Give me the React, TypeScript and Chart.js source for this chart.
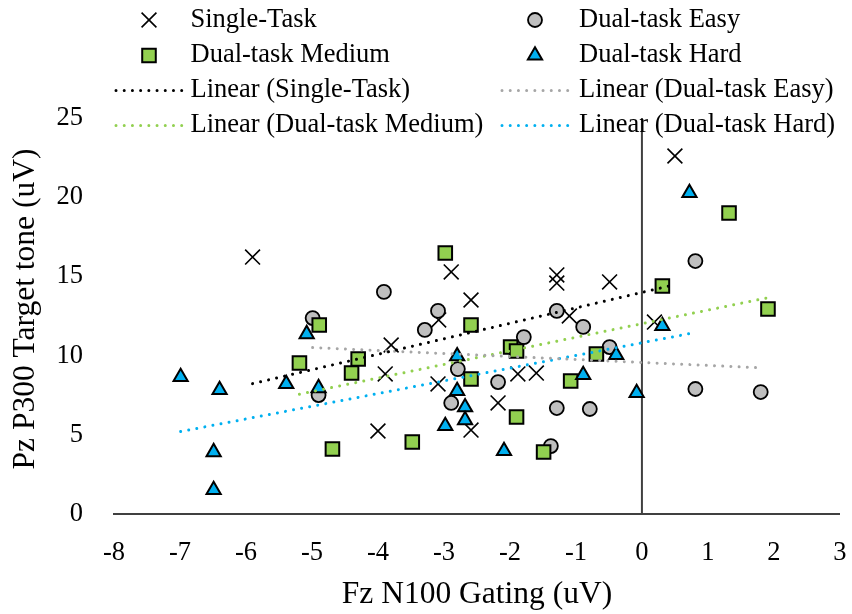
import React, { useEffect, useRef } from "react";
import { Chart, registerables } from "chart.js";

Chart.register(...registerables);

// ---- data -------------------------------------------------------------
const seriesNames = ["Single-Task", "Dual-task Easy", "Dual-task Medium", "Dual-task Hard"];

const singleX = [-5.9, -2.89, -2.59, -1.29, -1.29, -0.49, 0.5, -3.08, -3.8, -3.89, -4.0, -3.09, -2.59, -2.18, -1.88, -1.6, -1.1, 0.19];
const singleY = [16.22, 15.28, 13.51, 15.09, 14.58, 14.65, 22.6, 12.25, 10.67, 8.84, 5.24, 8.21, 5.3, 7.01, 8.84, 8.9, 12.5, 12.12];

const easyX = [-3.91, -4.99, -3.09, -3.29, -1.79, -1.29, -0.89, 0.81, -4.9, -2.79, -2.89, -2.18, -1.38, -1.29, -0.79, -0.49, 0.81, 1.8];
const easyY = [14.02, 12.37, 12.82, 11.62, 11.17, 12.82, 11.81, 15.97, 7.51, 9.15, 7.01, 8.33, 4.29, 6.69, 6.63, 10.54, 7.89, 7.7];

const mediumX = [-4.89, -2.98, -2.59, 1.32, 0.31, 1.91, -5.19, -4.3, -4.4, -4.69, -3.48, -1.99, -1.9, -2.59, -1.9, -1.49, -1.08, -0.69];
const mediumY = [11.93, 16.48, 11.93, 19.0, 14.39, 12.94, 9.53, 9.79, 8.9, 4.1, 4.55, 10.54, 10.29, 8.52, 6.12, 3.91, 8.4, 10.1];

const hardX = [-5.08, 0.72, 0.31, -6.99, -6.4, -6.49, -6.49, -5.39, -4.9, -2.8, -2.8, -2.68, -2.68, -2.98, -2.09, -0.89, -0.39, -0.08];
const hardY = [11.36, 20.27, 11.87, 8.65, 7.83, 3.91, 1.52, 8.21, 7.95, 9.97, 7.77, 6.75, 5.93, 5.56, 3.98, 8.78, 10.04, 7.64];

const xTicks = [-8, -7, -6, -5, -4, -3, -2, -1, 0, 1, 2, 3];
const yTicks = [0, 5, 10, 15, 20, 25];

const xTitle = "Fz N100 Gating (uV)";
const yTitle = "Pz P300 Target tone (uV)";

// ---- styles -----------------------------------------------------------
const FONT = "'Liberation Serif', 'Times New Roman', serif";
const axisColor = "#404040";
const tickFontSize = 26.5;
const titleFontSize = 31.5;

type MarkerStyle = {
  shape: "crossRot" | "circle" | "rect" | "triangle";
  radius: number;
  fill: string;
  stroke: string;
  width: number;
};

const markerStyles: MarkerStyle[] = [
  { shape: "crossRot", radius: 10.5, fill: "#000000", stroke: "#000000", width: 1.6 },
  { shape: "circle", radius: 7, fill: "#BFBFBF", stroke: "#000000", width: 1.8 },
  { shape: "rect", radius: 9.6, fill: "#92D050", stroke: "#000000", width: 2 },
  { shape: "triangle", radius: 8.2, fill: "#00B0F0", stroke: "#000000", width: 2 },
];

const trendColors = ["#000000", "#A6A6A6", "#92D050", "#00B0F0"];
const trendDash = [0.01, 8.2];
const trendWidth = 3;

// ---- helpers ----------------------------------------------------------
const toPoints = (xs: number[], ys: number[]) => xs.map((x, i) => ({ x, y: ys[i] }));

// least-squares line over the x-range of the series
function trendLine(xs: number[], ys: number[]) {
  const n = xs.length;
  const mx = xs.reduce((a, b) => a + b, 0) / n;
  const my = ys.reduce((a, b) => a + b, 0) / n;
  let sxy = 0;
  let sxx = 0;
  for (let i = 0; i < n; i++) {
    sxy += (xs[i] - mx) * (ys[i] - my);
    sxx += (xs[i] - mx) * (xs[i] - mx);
  }
  const m = sxy / sxx;
  const b = my - m * mx;
  const lo = Math.min(...xs);
  const hi = Math.max(...xs);
  return [
    { x: lo, y: m * lo + b },
    { x: hi, y: m * hi + b },
  ];
}

function drawMarker(ctx: CanvasRenderingContext2D, s: MarkerStyle, x: number, y: number) {
  ctx.save();
  ctx.lineWidth = s.width;
  ctx.strokeStyle = s.stroke;
  ctx.fillStyle = s.fill;
  ctx.beginPath();
  const r = s.radius;
  if (s.shape === "crossRot") {
    const d = r * Math.SQRT1_2;
    ctx.moveTo(x - d, y - d);
    ctx.lineTo(x + d, y + d);
    ctx.moveTo(x - d, y + d);
    ctx.lineTo(x + d, y - d);
    ctx.stroke();
  } else {
    if (s.shape === "circle") {
      ctx.arc(x, y, r, 0, Math.PI * 2);
    } else if (s.shape === "rect") {
      const h = r * Math.SQRT1_2;
      ctx.rect(x - h, y - h, 2 * h, 2 * h);
    } else {
      const w = r * Math.sin((2 * Math.PI) / 3);
      ctx.moveTo(x, y - r);
      ctx.lineTo(x + w, y + r / 2);
      ctx.lineTo(x - w, y + r / 2);
      ctx.closePath();
    }
    ctx.fill();
    ctx.stroke();
  }
  ctx.restore();
}

// vertical axis line through x = 0
const zeroLinePlugin = {
  id: "zeroLine",
  beforeDatasetsDraw(chart: any) {
    const { ctx, scales } = chart;
    const px = scales.x.getPixelForValue(0);
    ctx.save();
    ctx.strokeStyle = axisColor;
    ctx.lineWidth = 2;
    ctx.beginPath();
    ctx.moveTo(px, scales.y.getPixelForValue(yTicks[yTicks.length - 1]));
    ctx.lineTo(px, scales.y.getPixelForValue(0));
    ctx.stroke();
    ctx.restore();
  },
};

// rotated y-axis title, centred a little above the plot's middle
const yTitlePlugin = {
  id: "yTitle",
  afterDraw(chart: any) {
    const ctx: CanvasRenderingContext2D = chart.ctx;
    const area = chart.chartArea;
    ctx.save();
    ctx.translate(26, (area.top + area.bottom) / 2 - 7);
    ctx.rotate(-Math.PI / 2);
    ctx.font = `${titleFontSize}px ${FONT}`;
    ctx.fillStyle = "#000000";
    ctx.textAlign = "center";
    ctx.textBaseline = "middle";
    ctx.fillText(yTitle, 0, 0);
    ctx.restore();
  },
};

// two-column legend sitting over the top of the plot
const legendPlugin = {
  id: "overlayLegend",
  afterDraw(chart: any) {
    const ctx: CanvasRenderingContext2D = chart.ctx;
    const sampleX = [
      [116, 182],
      [502, 568],
    ];
    const textX = [190.5, 579];
    const rowY = [20, 55.5, 90.5, 125.5];
    ctx.save();
    ctx.font = `${tickFontSize}px ${FONT}`;
    ctx.textBaseline = "middle";
    ctx.textAlign = "left";
    ctx.fillStyle = "#000000";
    for (let i = 0; i < 4; i++) {
      const col = i % 2;
      const row = Math.floor(i / 2);
      const cx = (sampleX[col][0] + sampleX[col][1]) / 2;
      drawMarker(ctx, markerStyles[i], cx, rowY[row]);
      ctx.fillText(seriesNames[i], textX[col], rowY[row]);
    }
    for (let i = 0; i < 4; i++) {
      const col = i % 2;
      const row = 2 + Math.floor(i / 2);
      ctx.save();
      ctx.strokeStyle = trendColors[i];
      ctx.lineWidth = trendWidth;
      ctx.lineCap = "round";
      ctx.setLineDash(trendDash);
      ctx.beginPath();
      ctx.moveTo(sampleX[col][0], rowY[row]);
      ctx.lineTo(sampleX[col][1], rowY[row]);
      ctx.stroke();
      ctx.restore();
      ctx.fillText(`Linear (${seriesNames[i]})`, textX[col], rowY[row]);
    }
    ctx.restore();
  },
};

export default function App() {
  const canvasRef = useRef<HTMLCanvasElement | null>(null);

  useEffect(() => {
    if (!canvasRef.current) return;
    const xs = [singleX, easyX, mediumX, hardX];
    const ys = [singleY, easyY, mediumY, hardY];

    const scatterSets = seriesNames.map((name, i) => ({
      type: "scatter" as const,
      label: name,
      data: toPoints(xs[i], ys[i]),
      pointStyle: markerStyles[i].shape,
      pointRadius: markerStyles[i].radius,
      pointBackgroundColor: markerStyles[i].fill,
      pointBorderColor: markerStyles[i].stroke,
      pointBorderWidth: markerStyles[i].width,
      showLine: false,
      order: 4 - i,
    }));

    const trendSets = seriesNames.map((name, i) => ({
      type: "line" as const,
      label: `Linear (${name})`,
      data: trendLine(xs[i], ys[i]),
      borderColor: trendColors[i],
      borderWidth: trendWidth,
      borderDash: trendDash,
      borderCapStyle: "round" as const,
      pointRadius: 0,
      fill: false,
      tension: 0,
      order: 0,
    }));

    const chart = new Chart(canvasRef.current, {
      type: "scatter",
      data: { datasets: [...scatterSets, ...trendSets] as any },
      plugins: [zeroLinePlugin, yTitlePlugin, legendPlugin],
      options: {
        animation: false,
        responsive: true,
        maintainAspectRatio: false,
        events: [],
        layout: { padding: { top: 118, right: 10, left: 0, bottom: 0 } },
        plugins: {
          legend: { display: false },
          tooltip: { enabled: false },
        },
        scales: {
          x: {
            type: "linear",
            min: xTicks[0],
            max: xTicks[xTicks.length - 1],
            afterBuildTicks: (scale: any) => {
              scale.ticks = xTicks.map((v) => ({ value: v }));
            },
            afterFit: (scale: any) => {
              scale.height = 100;
              scale.paddingLeft = 0;
              scale.paddingRight = 0;
            },
            grid: { display: false, drawTicks: false },
            border: { display: true, color: axisColor, width: 2 },
            ticks: {
              color: "#000000",
              padding: 23,
              font: { family: FONT, size: tickFontSize },
              maxRotation: 0,
              autoSkip: false,
            },
            title: {
              display: true,
              text: xTitle,
              color: "#000000",
              font: { family: FONT, size: titleFontSize },
              padding: { top: 0, bottom: 0 },
            },
          },
          y: {
            type: "linear",
            min: yTicks[0],
            max: yTicks[yTicks.length - 1],
            afterBuildTicks: (scale: any) => {
              scale.ticks = yTicks.map((v) => ({ value: v }));
            },
            afterFit: (scale: any) => {
              scale.width = 114;
              scale.paddingTop = 0;
              scale.paddingBottom = 0;
            },
            grid: { display: false, drawTicks: false },
            border: { display: false },
            ticks: {
              color: "#000000",
              padding: 31,
              font: { family: FONT, size: tickFontSize },
              autoSkip: false,
            },
            title: { display: false },
          },
        },
      },
    });

    return () => chart.destroy();
  }, []);

  return (
    <div style={{ position: "fixed", left: 0, top: 0, width: 852, height: 614, background: "#ffffff" }}>
      <canvas ref={canvasRef} />
    </div>
  );
}
